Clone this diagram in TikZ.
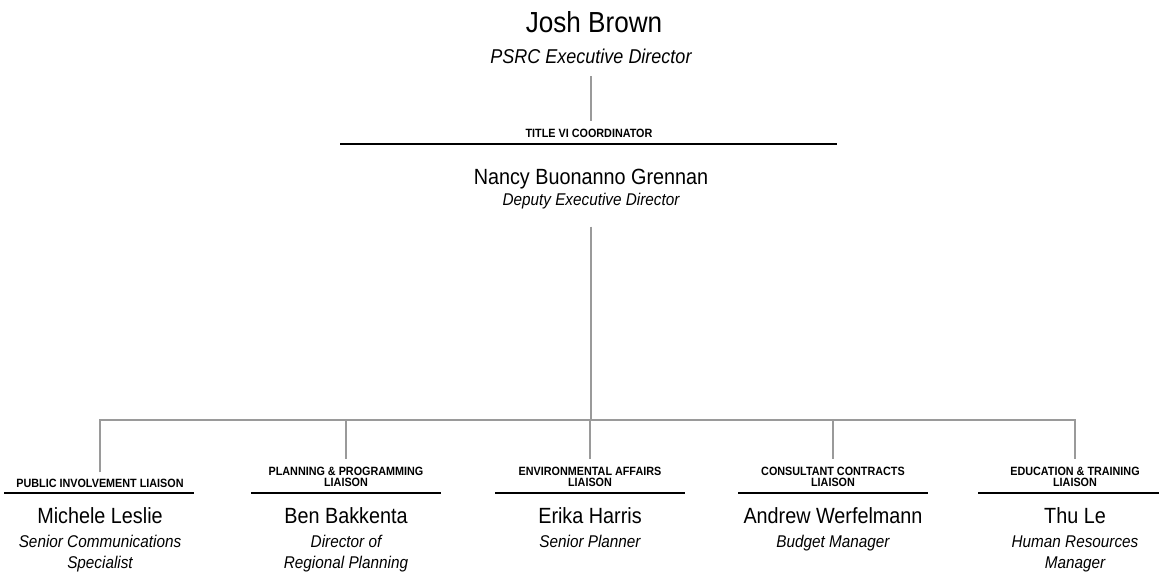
\documentclass[tikz,border=0pt]{standalone}
\usepackage{fontspec}
\setmainfont{Liberation Sans}[FakeStretch=0.9]
\usetikzlibrary{positioning}
\definecolor{linkgray}{HTML}{9A9A9A}
\tikzset{
  person/.style={anchor=base, inner sep=0pt, font=\fontsize{22}{22}\selectfont},
  jobtitle/.style={anchor=base, inner sep=0pt, align=center, font=\itshape\fontsize{17}{21}\selectfont},
  liaison/.style={anchor=base, inner sep=0pt, align=center, font=\bfseries\fontsize{12}{11}\selectfont},
  link/.style={draw=linkgray, line width=2.6pt},
  barline/.style={draw=black, line width=1.8pt}
}

\begin{document}
\begin{tikzpicture}[x=1pt, y=-1pt]
		%%%%% START %%%%%
		\useasboundingbox[fill=white] (0,0) rectangle (1159,577);
		
		% director
		\node[person, font=\fontsize{29}{29}\selectfont] (josh) at (594,33) {Josh Brown};
		\node[jobtitle, font=\itshape\fontsize{20}{20}\selectfont] (psrc) at (591,64) {PSRC Executive Director};
		
		% title vi coordinator
		\node[liaison] (coordlab) at (589,138) {TITLE VI COORDINATOR};
		\draw[barline] (340,144) -- (837,144);
		\node[person] (nancy) at (591,185) {Nancy Buonanno Grennan};
		\node[jobtitle] (deputy) at (591,206) {Deputy Executive Director};
		
		\draw[link, shorten <=12pt, shorten >=8pt] (psrc.south) -- (psrc.south |- coordlab.north);
		
		% liaisons (base = last line)
		\node[liaison] (lab1) at (100,487) {PUBLIC INVOLVEMENT LIAISON};
		\node[liaison] (lab2) at (346,486) {PLANNING \& PROGRAMMING\\LIAISON};
		\node[liaison] (lab3) at (590,486) {ENVIRONMENTAL AFFAIRS\\LIAISON};
		\node[liaison] (lab4) at (833,486) {CONSULTANT CONTRACTS\\LIAISON};
		\node[liaison] (lab5) at (1075,486) {EDUCATION \& TRAINING\\LIAISON};
		
		\draw[barline] (4,493) -- (194,493);
		\draw[barline] (251,493) -- (441,493);
		\draw[barline] (495,493) -- (685,493);
		\draw[barline] (738,493) -- (928,493);
		\draw[barline] (978,493) -- (1159,493);
		
		\node[person] (michele) at (100,523) {Michele Leslie};
		\node[person] (ben) at (346,523) {Ben Bakkenta};
		\node[person] (erika) at (590,523) {Erika Harris};
		\node[person] (andrew) at (833,523) {Andrew Werfelmann};
		\node[person] (thu) at (1075,523) {Thu Le};
		
		\node[jobtitle] (michelejob) at (100,568) {Senior Communications\\Specialist};
		\node[jobtitle] (benjob) at (346,568) {Director of\\Regional Planning};
		\node[jobtitle] (erikajob) at (590,547) {Senior Planner};
		\node[jobtitle] (andrewjob) at (833,547) {Budget Manager};
		\node[jobtitle] (thujob) at (1075,568) {Human Resources\\Manager};
		
		% connectors
		\coordinate (bar1) at (lab1.north |- 0,420);
		\coordinate (bar5) at (lab5.north |- 0,420);
		\draw[link, shorten <=17pt] (deputy.south) -- (deputy.south |- bar1);
		\draw[link, shorten <=6pt, shorten >=7pt] (lab1.north) -- (bar1) -- (bar5) -- (lab5.north);
		\draw[link, shorten >=7pt] (lab2.north |- bar1) -- (lab2.north);
		\draw[link, shorten >=7pt] (lab3.north |- bar1) -- (lab3.north);
		\draw[link, shorten >=7pt] (lab4.north |- bar1) -- (lab4.north);
		%%%%% END %%%%%
\end{tikzpicture}
\end{document}
